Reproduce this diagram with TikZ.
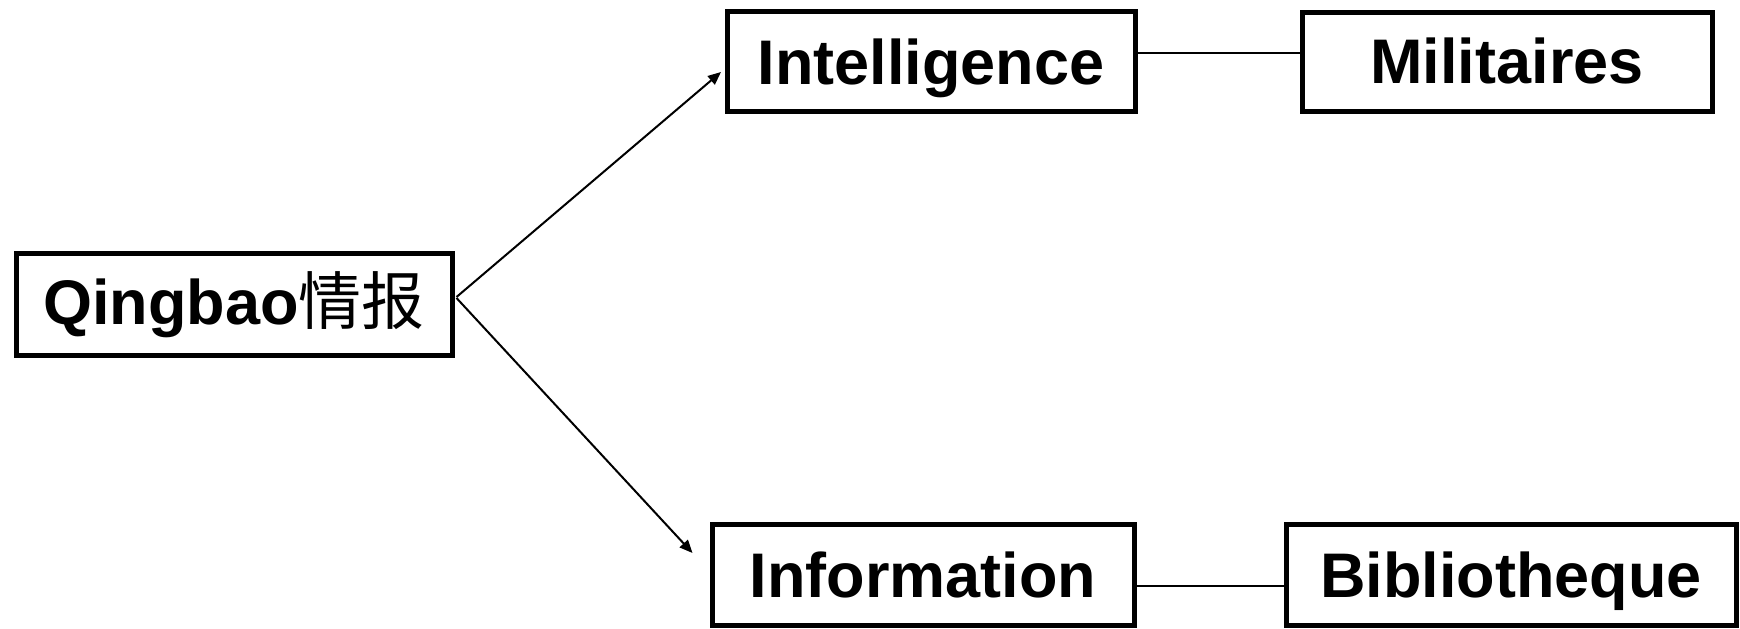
\documentclass[tikz,border=0pt]{standalone}
\usepackage{fontspec}
\setmainfont{Liberation Sans}
\newfontfamily\cjk{Noto Sans CJK SC}
\usetikzlibrary{arrows.meta}
\begin{document}
\begin{tikzpicture}[x=0.5pt,y=-0.5pt,
  box/.style={draw,line width=2.5pt,inner sep=0pt,text height=23pt,text depth=0pt,font=\fontsize{31.5pt}{36pt}\selectfont\bfseries},
  link/.style={line width=1pt},
  arr/.style={line width=1pt,-{Triangle[length=6.5pt,width=5.5pt]}}]
\useasboundingbox (0,0) rectangle (1740,628);
\node[box,text height=20pt,minimum width=218pt,minimum height=51pt] (Q) at (234,304) {Qingbao{\cjk\mdseries 情报}};
\node[box,minimum width=204pt,minimum height=50pt] (I) at (931,61.5) {Intelligence};
\node[box,text height=21.5pt,minimum width=205pt,minimum height=49.5pt] (M) at (1507,61.5) {Militaires};
\node[box,minimum width=211pt,minimum height=50.5pt] (F) at (923,574.5) {Information};
\node[box,text height=22.5pt,minimum width=225pt,minimum height=50.5pt] (B) at (1511,574.5) {Bibliotheque};
\draw[arr] ([yshift=3.5pt,xshift=1pt]Q.east) -- ([xshift=-1.75pt,yshift=-5.25pt]I.west);
\draw[arr] ([yshift=3pt,xshift=1pt]Q.east) -- ([xshift=-8.5pt,yshift=10.75pt]F.west);
\coordinate (l1) at ([yshift=4.25pt]I.east);
\draw[link] (l1) -- (l1 -| M.west);
\coordinate (l2) at ([yshift=-5.75pt]F.east);
\draw[link] (l2) -- (l2 -| B.west);
\end{tikzpicture}
\end{document}
